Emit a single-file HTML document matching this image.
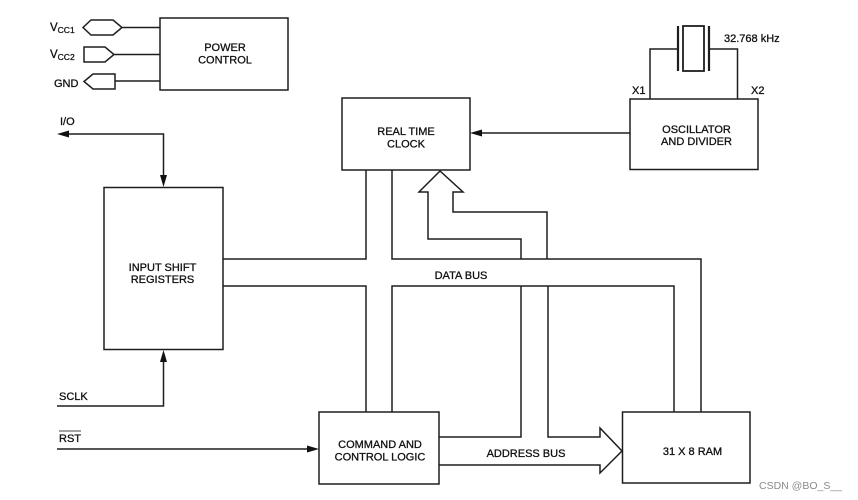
<!DOCTYPE html>
<html><head><meta charset="utf-8"><style>
html,body{margin:0;padding:0;background:#fff}
svg{display:block}
text{font-family:"Liberation Sans",sans-serif;font-size:11px;fill:#111;text-anchor:middle;stroke:#111;stroke-width:.3}
.l{text-anchor:start}
</style></head><body>
<svg width="858" height="500" viewBox="0 0 858 500" xmlns="http://www.w3.org/2000/svg">
<rect width="858" height="500" fill="#fff"/>
<g fill="none" stroke="#1e1e1e" stroke-width="1.500">
<rect x="160" y="18" width="128" height="72"/>
<rect x="342" y="98" width="128" height="72"/>
<rect x="630" y="99" width="128" height="70.500"/>
<rect x="104" y="187.500" width="119" height="162"/>
<rect x="319" y="412" width="120" height="72"/>
<rect x="622.500" y="412" width="127.500" height="71"/>
<path d="M83 27.500L91 20H113L122 27.500L113 35H91ZM122 27.500H160"/>
<path d="M84 47H105L114 54.500L105 62H84ZM114 54.500H160"/>
<path d="M84 81.500L93 74H115V89H93ZM115 81H160"/>
<path d="M66 134H163.500V178"/>
<path d="M57 406H163.500V360"/>
<path d="M57 449H309"/>
<path d="M630 133H482"/>
<path d="M678 49H650V99M709 49H737.500V99"/>
<rect x="683" y="26" width="21" height="45" stroke-width="1.800"/>
<path d="M678 26V71M709 26V71" stroke-width="2.200"/>
<path d="M223 259H366V170M392 170V259H701V412"/>
<path d="M223 286H366V412M392 412V286H674V412"/>
<path d="M521 259V239H428V192H419L440 171L463 192H453V212H547V259"/>
<path d="M521 286V437H439M548 286V437H600V428L622 451L600 473V465H439"/>
</g>
<g fill="#111">
<path d="M57 134L69 130.500V137.500Z"/>
<path d="M163.500 187L160 175H167Z"/>
<path d="M163.500 350L160 362H167Z"/>
<path d="M319 449L307 445.500V452.500Z"/>
<path d="M470 133L482 129.500V136.500Z"/>
</g>
<text class="l" x="50" y="31" style="font-size:11.500px">V<tspan font-size="8.500" dy="2">CC1</tspan></text>
<text class="l" x="50" y="58" style="font-size:11.500px">V<tspan font-size="8.500" dy="2">CC2</tspan></text>
<text class="l" x="54" y="87">GND</text>
<text class="l" x="60" y="125">I/O</text>
<text x="225" y="51">POWER</text><text x="225" y="63.500">CONTROL</text>
<text x="406" y="135">REAL TIME</text><text x="406" y="147.500">CLOCK</text>
<text x="696.500" y="133">OSCILLATOR</text><text x="696.500" y="145">AND DIVIDER</text>
<text x="162.500" y="271">INPUT SHIFT</text><text x="162.500" y="283">REGISTERS</text>
<text x="461" y="279">DATA BUS</text>
<text x="380" y="448">COMMAND AND</text><text x="380" y="460.500">CONTROL LOGIC</text>
<text x="526" y="457">ADDRESS BUS</text>
<text x="692.500" y="455">31 X 8 RAM</text>
<text class="l" x="59" y="400">SCLK</text>
<text class="l" x="59" y="442">RST</text>
<path d="M59 431H81" stroke="#444" stroke-width="1"/>
<text class="l" x="632" y="94">X1</text>
<text class="l" x="751" y="94">X2</text>
<text class="l" x="724" y="42">32.768 kHz</text>
<text class="l" x="759" y="489" style="fill:#8a8a8a;stroke:none;font-size:10.500px">CSDN @BO_S__</text>
</svg>
</body></html>
